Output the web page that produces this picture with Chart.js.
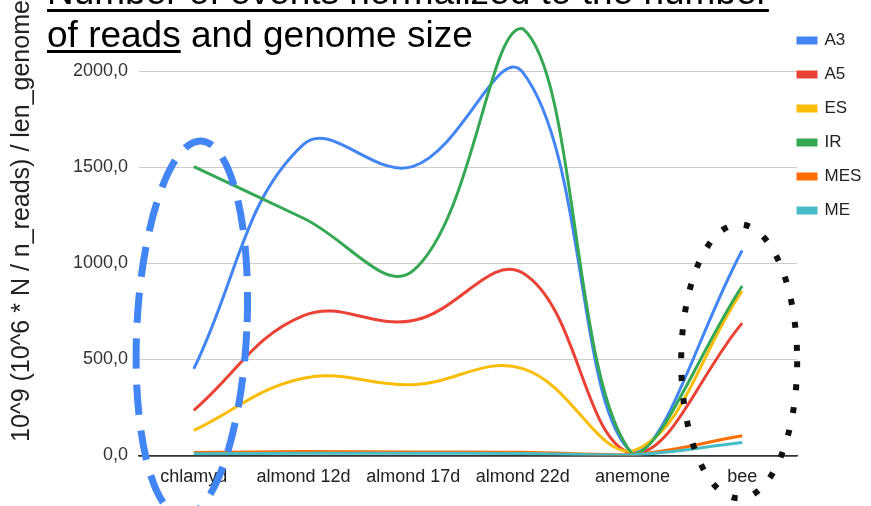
<!DOCTYPE html>
<html>
<head>
<meta charset="utf-8">
<script src="https://cdn.jsdelivr.net/npm/chart.js@4.4.1/dist/chart.umd.min.js"></script>
<style>
  body { margin: 0; background: #fff; }
  #wrap { width: 871px; height: 506px; position: relative; }
</style>
</head>
<body>
<div id="wrap"><canvas id="eventsChart"></canvas></div>
<script>
var categories = ['chlamyd', 'almond 12d', 'almond 17d', 'almond 22d', 'anemone', 'bee'];
var yTicks = [0, 500, 1000, 1500, 2000];

var seriesNames = ['A3', 'A5', 'ES', 'IR', 'MES', 'ME'];
var seriesColors = ['#4285F4', '#EA4335', '#FBBC04', '#34A853', '#FF6D01', '#46BDC6'];

var a3 = [451, 1620, 1505, 1995, 12, 1067];
var a5 = [235, 728, 702, 950, 8, 689];
var es = [130, 402, 368, 452, 22, 856];
var ir = [1504, 1235, 962, 2222, 6, 882];
var mes = [15, 20, 18, 16, 4, 102];
var me = [8, 11, 11, 10, 3, 67];

var titleLines = ['Number of events normalized to the number', 'of reads and genome size'];
var yTitle = '10^9 (10^6 * N / n_reads) / len_genome';

var FONT = '"Liberation Sans", Arial, sans-serif';

document.addEventListener('DOMContentLoaded', function() {
    var ctx = document.getElementById('eventsChart').getContext('2d');
    var values = [a3, a5, es, ir, mes, me];

    var datasets = values.map(function(v, i) {
        return {
            label: seriesNames[i],
            data: v,
            borderColor: seriesColors[i],
            backgroundColor: seriesColors[i],
            borderWidth: 3,
            tension: 0.4,
            pointRadius: 0,
            order: values.length - i // later series drawn on top, like sheets
        };
    });

    // title, axis title and the two hand drawn ellipses
    var decor = {
        id: 'decor',
        afterLayout: function(chart) {
            // legend sits partly over the plot edge in the original
            var lg = chart.legend;
            var h = lg.height;
            lg.left = 781;
            lg.right = 871;
            lg.top = 15;
            lg.bottom = 15 + h;
        },
        afterDatasetsDraw: function(chart) {
            var c = chart.ctx;
            var x = chart.scales.x, y = chart.scales.y;
            c.save();
            // blue dashed ring round chlamyd
            c.beginPath();
            c.ellipse(x.getPixelForValue(0) - 2, y.getPixelForValue(660), 55, 188, 0.05, 0, Math.PI * 2);
            c.setLineDash([30, 16]);
            c.lineWidth = 7;
            c.strokeStyle = '#4285F4';
            c.stroke();
            // black dotted ring round bee
            c.beginPath();
            c.ellipse(x.getPixelForValue(5) - 3, y.getPixelForValue(490), 58, 137, 0, 0, Math.PI * 2);
            c.setLineDash([6, 17]);
            c.lineWidth = 6;
            c.strokeStyle = '#111';
            c.stroke();
            c.restore();
        },
        afterDraw: function(chart) {
            var c = chart.ctx;
            c.save();
            c.fillStyle = '#000';
            c.font = '37px ' + FONT;
            c.textBaseline = 'alphabetic';
            c.textAlign = 'left';
            c.fillText(titleLines[0], 47, 4);
            c.fillText(titleLines[1], 47, 47);
            var w1 = c.measureText(titleLines[0]).width;
            var w2 = c.measureText('of reads').width;
            c.fillRect(47, 9, w1, 3);
            c.fillRect(47, 50, w2, 3);

            c.fillStyle = '#222';
            c.font = '25px ' + FONT;
            c.translate(22, 221);
            c.rotate(-Math.PI / 2);
            c.textAlign = 'center';
            c.textBaseline = 'middle';
            c.fillText(yTitle, 0, 0);
            c.restore();
        }
    };

    new Chart(ctx, {
        type: 'line',
        data: { labels: categories, datasets: datasets },
        options: {
            responsive: true,
            maintainAspectRatio: false,
            animation: false,
            layout: { padding: { left: 39, top: 5, right: 0, bottom: 7 } },
            scales: {
                x: {
                    offset: true,
                    grid: { display: false, drawTicks: false },
                    border: { display: true, color: '#333', width: 1.5 },
                    ticks: {
                        autoSkip: false,
                        maxRotation: 0,
                        padding: 11,
                        color: '#222',
                        font: { size: 18, family: FONT }
                    }
                },
                y: {
                    min: 0,
                    max: 2258,
                    afterBuildTicks: function(scale) {
                        scale.ticks = yTicks.map(function(v) { return { value: v }; });
                    },
                    afterFit: function(scale) { scale.width = 100; },
                    border: { display: false },
                    grid: {
                        drawTicks: false,
                        color: function(c) { return c.tick && c.tick.value === 0 ? '#333' : '#ccc'; },
                        lineWidth: function(c) { return c.tick && c.tick.value === 0 ? 1.5 : 1; }
                    },
                    ticks: {
                        padding: 11,
                        color: '#333',
                        font: { size: 18, family: FONT },
                        callback: function(v) { return v.toFixed(1).replace('.', ','); }
                    }
                }
            },
            plugins: {
                legend: {
                    position: 'right',
                    align: 'start',
                    maxWidth: 74,
                    labels: {
                        boxWidth: 18,
                        boxHeight: 5,
                        padding: 17,
                        color: '#222',
                        font: { size: 17, family: FONT },
                        sort: function(a, b) { return a.datasetIndex - b.datasetIndex; }
                    }
                },
                tooltip: { enabled: false }
            }
        },
        plugins: [decor]
    });
});
</script>
</body>
</html>
